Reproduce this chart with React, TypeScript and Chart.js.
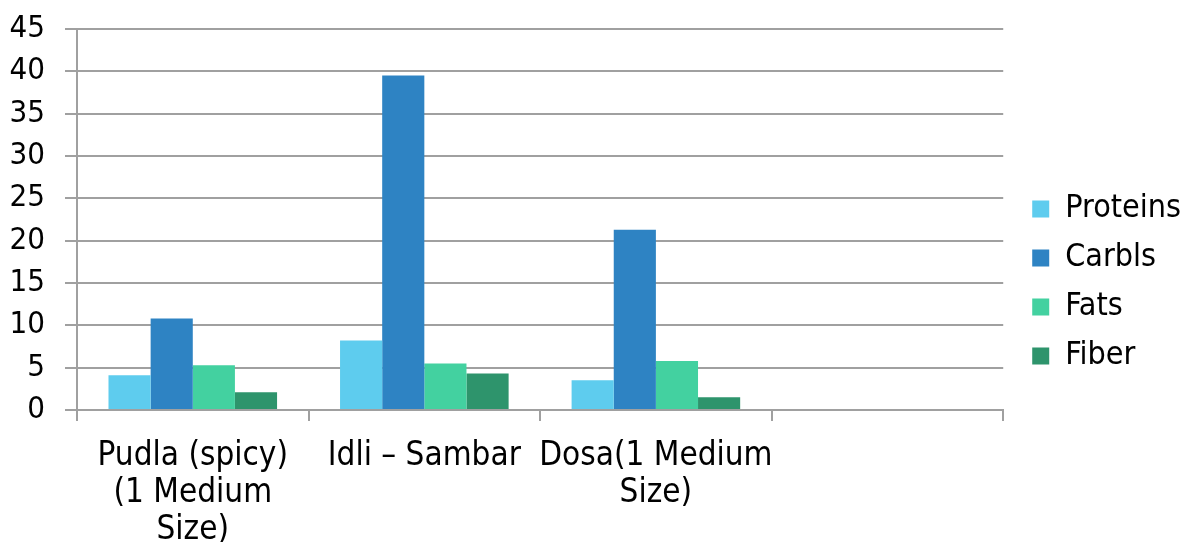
import React, { useEffect, useRef } from "react";
import { Chart, registerables } from "chart.js";

Chart.register(...registerables);

const categories: (string | string[])[] = [
  ["Pudla (spicy)", "(1 Medium", "Size)"],
  "Idli – Sambar",
  ["Dosa(1 Medium", "Size)"],
  "",
];
const seriesNames = ["Proteins", "Carbls", "Fats", "Fiber"];
const proteins = [4.1, 8.2, 3.5, null];
const carbls = [10.8, 39.5, 21.3, null];
const fats = [5.3, 5.5, 5.8, null];
const fiber = [2.1, 4.3, 1.5, null];
const yMin = 0;
const yMax = 45;
const yStep = 5;
const seriesColors = ["#5ECCEE", "#2E83C3", "#43D1A0", "#2E946C"];

const FONT = "'DejaVu Sans Condensed', 'Liberation Sans Narrow', 'DejaVu Sans', sans-serif";

export default function App() {
  const ref = useRef<HTMLCanvasElement | null>(null);

  useEffect(() => {
    if (!ref.current) return;
    const values = [proteins, carbls, fats, fiber];
    const legendShift = {
      id: "legendShift",
      afterLayout(chart: any) {
        const l = chart.legend;
        if (l) {
          l.left += 12;
          l.right += 12;
          l.top -= 3;
          l.bottom -= 3;
        }
      },
    };
    const chart = new Chart(ref.current, {
      type: "bar",
      data: {
        labels: categories as any,
        datasets: seriesNames.map((name, i) => ({
          label: name,
          data: values[i] as any,
          backgroundColor: seriesColors[i],
          borderWidth: 0,
          categoryPercentage: 0.728,
          barPercentage: 1,
        })),
      },
      options: {
        responsive: false,
        animation: false,
        layout: { padding: { top: 29, right: 8, bottom: 0, left: 0 } },
        plugins: {
          tooltip: { enabled: false },
          title: { display: false },
          legend: {
            position: "right",
            labels: {
              boxWidth: 17,
              boxHeight: 17,
              padding: 17,
              color: "#000",
              font: { family: FONT, size: 32 },
            },
          },
        },
        scales: {
          x: {
            offset: true,
            afterFit(scale: any) {
              scale.height = 132;
            },
            grid: {
              offset: true,
              drawOnChartArea: false,
              drawTicks: true,
              tickLength: 11,
              color: "#a0a0a0",
              lineWidth: 2,
            },
            border: { display: true, color: "#a0a0a0", width: 2 },
            ticks: {
              color: "#000",
              padding: 17,
              maxRotation: 0,
              autoSkip: false,
              font: { family: FONT, size: 33, lineHeight: 1.12 },
            },
          },
          y: {
            min: yMin,
            max: yMax,
            afterFit(scale: any) {
              scale.width = 77;
              scale.paddingTop = 0;
              scale.paddingBottom = 0;
            },
            grid: {
              color: "#a0a0a0",
              lineWidth: 2,
              drawTicks: true,
              tickLength: 12,
            },
            border: { display: true, color: "#a0a0a0", width: 2 },
            ticks: {
              stepSize: yStep,
              color: "#000",
              padding: 20,
              font: { family: FONT, size: 31 },
            },
          },
        },
      },
      plugins: [legendShift],
    });
    return () => chart.destroy();
  }, []);

  return (
    <div style={{ position: "fixed", left: 0, top: 0, width: 1187, height: 542, background: "#fff" }}>
      <canvas ref={ref} width={1187} height={542} style={{ display: "block" }} />
    </div>
  );
}
